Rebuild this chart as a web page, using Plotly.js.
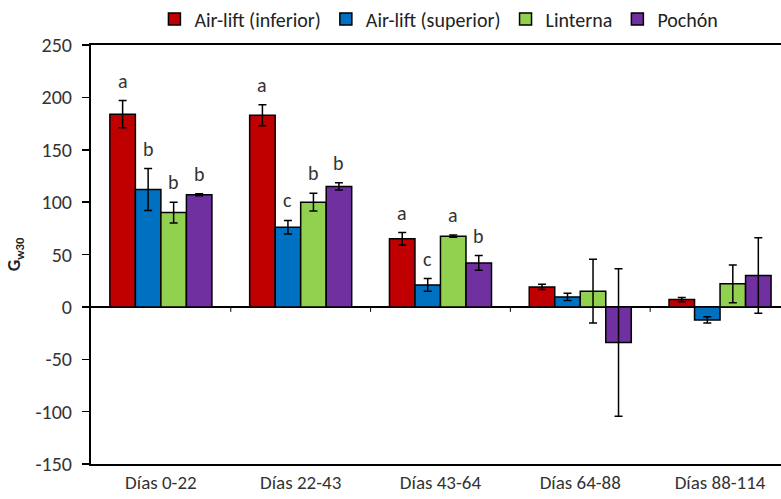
<!DOCTYPE html>
<html>
<head>
<meta charset="utf-8">
<script src="https://cdn.plot.ly/plotly-3.0.1.min.js"></script>
<style>html,body{margin:0;padding:0;background:#fff;}#chart{width:781px;height:499px;}</style>
</head>
<body>
<div id="chart"></div>
<script>
const categories = ['Días 0-22', 'Días 22-43', 'Días 43-64', 'Días 64-88', 'Días 88-114'];
const seriesNames = ['Air-lift (inferior)', 'Air-lift (superior)', 'Linterna', 'Pochón'];
const inferior = [184, 183, 65, 19, 7];
const inferiorErr = [13, 10, 6, 2.5, 2];
const superior = [112, 76, 21, 9.5, -12.5];
const superiorErr = [20, 6.5, 6, 3.5, 3];
const linterna = [90, 100, 67.5, 15, 22];
const linternaErr = [10, 8.5, 1, 30.5, 18];
const pochon = [107, 115, 42, -34, 30];
const pochonErr = [1, 3.5, 7, 70.5, 36];
const inferiorLetters = ['a', 'a', 'a', '', ''];
const superiorLetters = ['b', 'c', 'c', '', ''];
const linternaLetters = ['b', 'b', 'a', '', ''];
const pochonLetters = ['b', 'b', 'b', '', ''];
const yTicks = [-150, -100, -50, 0, 50, 100, 150, 200, 250];
const yTickText = ['-150', '-100', '-50', '0', '50', '100', '150', '200', '250'];

const colors = ['#C00000', '#0070C0', '#92D050', '#7030A0'];
const values = [inferior, superior, linterna, pochon];
const errs = [inferiorErr, superiorErr, linternaErr, pochonErr];
const letters = [inferiorLetters, superiorLetters, linternaLetters, pochonLetters];
const FONT = "Carlito, 'Liberation Sans Narrow', 'Open Sans', sans-serif";

const traces = values.map((v, i) => ({
  type: 'bar',
  name: seriesNames[i],
  x: categories,
  y: v,
  marker: {color: colors[i], line: {color: '#000', width: 1.5}},
  error_y: {type: 'data', array: errs[i], visible: true, color: '#000', thickness: 1.5, width: 4}
}));

const bargap = 0.27;
const barW = (1 - bargap) / 4;
const annotations = [];
letters.forEach((arr, s) => {
  arr.forEach((t, c) => {
    if (!t) return;
    annotations.push({
      xref: 'x', yref: 'y',
      x: c + (s - 1.5) * barW,
      y: values[s][c] + errs[s][c],
      text: t, showarrow: false,
      yanchor: 'middle', yshift: 20,
      font: {family: FONT, size: 20, color: '#333'}
    });
  });
});

const shapes = [0.5, 1.5, 2.5, 3.5].map(xv => ({
  type: 'line', xref: 'x', yref: 'y',
  x0: xv, x1: xv, ysizemode: 'pixel', yanchor: 0, y0: 0, y1: -5,
  line: {color: '#000', width: 1}
}));

const layout = {
  width: 781, height: 499,
  margin: {l: 91, r: 0, t: 45, b: 35},
  paper_bgcolor: '#fff', plot_bgcolor: '#fff',
  barmode: 'group', bargap: bargap, bargroupgap: 0,
  font: {family: FONT, size: 19, color: '#333'},
  showlegend: true,
  legend: {orientation: 'h', xref: 'container', x: 0.562, xanchor: 'center',
           yref: 'container', y: 0.962, yanchor: 'middle',
           bgcolor: 'rgba(0,0,0,0)',
           font: {family: FONT, size: 20, color: '#222'}, itemwidth: 30, traceorder: 'normal'},
  xaxis: {
    type: 'category', range: [-0.5, 4.436],
    showline: true, linecolor: '#000', linewidth: 2, mirror: true,
    ticks: '', showgrid: false, zeroline: false,
    tickfont: {family: FONT, size: 19, color: '#333'}
  },
  yaxis: {
    range: [-150, 250], tickmode: 'array', tickvals: yTicks, ticktext: yTickText,
    showline: true, linecolor: '#000', linewidth: 2,
    ticks: 'outside', ticklen: 7, tickwidth: 1.5, tickcolor: '#000',
    ticklabelstandoff: 6,
    showgrid: false, zeroline: true, zerolinecolor: '#000', zerolinewidth: 2,
    tickfont: {family: FONT, size: 20, color: '#333'},
    title: {text: '<b>G<sub>w30</sub></b>', standoff: 10, font: {family: FONT, size: 18, color: '#222'}}
  },
  annotations: annotations,
  shapes: shapes
};

Plotly.newPlot('chart', traces, layout, {displayModeBar: false, staticPlot: true});
</script>
</body>
</html>
